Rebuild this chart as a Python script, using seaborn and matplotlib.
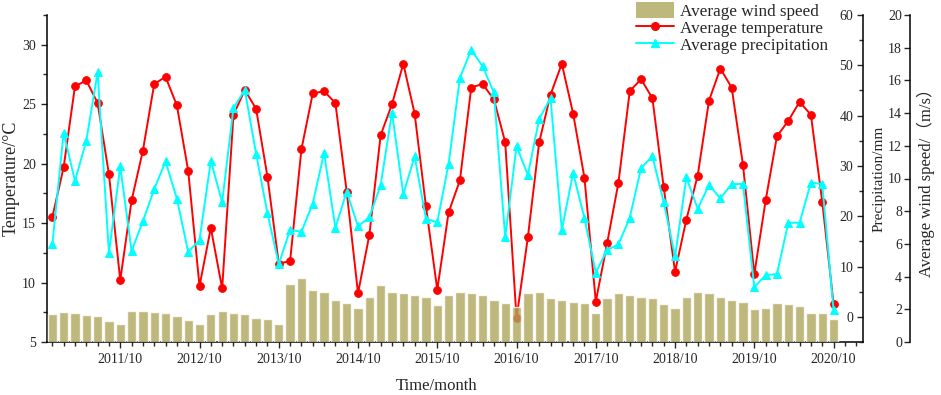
import numpy as np
import pandas as pd
import matplotlib
matplotlib.use("Agg")
import matplotlib.pyplot as plt
import seaborn as sns
from matplotlib.ticker import FixedLocator, MultipleLocator, NullFormatter
from matplotlib.patches import Patch
from matplotlib.lines import Line2D

# ---- data (growing season months Apr-Oct, 2011-2020) ----
tick_labels = ["2011/10", "2012/10", "2013/10", "2014/10", "2015/10",
               "2016/10", "2017/10", "2018/10", "2019/10", "2020/10"]

temperature = [15.5, 19.7, 26.5, 27.0, 25.1, 19.1, 10.2,
               16.9, 21.1, 26.7, 27.3, 24.9, 19.4, 9.7,
               14.6, 9.5, 24.1, 26.2, 24.6, 18.9, 11.6,
               11.8, 21.2, 25.9, 26.1, 25.1, 17.65, 9.1,
               14.0, 22.4, 25.0, 28.4, 24.2, 16.4, 9.4,
               15.9, 18.6, 26.4, 26.7, 25.4, 21.8, 7.0,
               13.8, 21.8, 25.8, 28.4, 24.2, 18.8, 8.4,
               13.3, 18.4, 26.1, 27.1, 25.5, 18.0, 10.9,
               15.3, 19.0, 25.3, 28.0, 26.4, 19.9, 10.7,
               16.9, 22.3, 23.6, 25.2, 24.1, 16.8, 8.2]

precipitation = [14.4, 36.6, 27.0, 35.0, 48.6, 12.7, 29.9,
                 13.1, 19.0, 25.4, 30.9, 23.5, 12.9, 15.3,
                 31.0, 22.8, 41.5, 45.1, 32.4, 20.6, 10.5,
                 17.3, 16.9, 22.5, 32.6, 17.7, 24.9, 18.0,
                 19.8, 26.2, 40.6, 24.4, 31.9, 19.5, 18.8,
                 30.4, 47.5, 53.1, 49.8, 44.6, 15.8, 33.9,
                 28.2, 39.3, 43.5, 17.3, 28.6, 19.6, 8.8,
                 13.3, 14.4, 19.7, 29.6, 31.9, 22.8, 12.0,
                 27.7, 21.5, 26.2, 23.6, 26.4, 26.4, 5.9,
                 8.3, 8.5, 18.7, 18.7, 26.7, 26.4, 1.3]

wind_speed = [1.71, 1.81, 1.77, 1.67, 1.57, 1.27, 1.10,
              1.90, 1.90, 1.83, 1.77, 1.61, 1.36, 1.10,
              1.69, 1.88, 1.77, 1.69, 1.49, 1.41, 1.10,
              3.57, 3.89, 3.18, 3.08, 2.57, 2.37, 2.08,
              2.77, 3.47, 3.06, 2.97, 2.87, 2.77, 2.28,
              2.87, 3.06, 2.97, 2.87, 2.57, 2.37, 2.16,
              2.97, 3.06, 2.67, 2.57, 2.47, 2.37, 1.77,
              2.67, 2.97, 2.87, 2.77, 2.67, 2.30, 2.10,
              2.77, 3.06, 2.97, 2.77, 2.57, 2.47, 2.00,
              2.10, 2.37, 2.30, 2.20, 1.79, 1.79, 1.39]

df = pd.DataFrame({"t": np.arange(len(temperature)),
                   "temp": temperature,
                   "prec": precipitation,
                   "wind": wind_speed})

sns.set_style("ticks")
plt.rcParams["font.family"] = ["Liberation Serif", "Noto Sans CJK SC"]
plt.rcParams["axes.unicode_minus"] = False

bar_color = "#AEA75C"

fig = plt.figure(figsize=(9.41, 3.95), dpi=100)
ax = fig.add_axes([47 / 941, 1 - 342 / 395, 816 / 941, 327 / 395])
ax2 = ax.twinx()
ax3 = ax.twinx()

# temperature (left axis)
sns.lineplot(data=df, x="t", y="temp", ax=ax, color="red", lw=1.4,
             marker="o", markersize=5.5, markeredgecolor="red")
# precipitation (first right axis)
sns.lineplot(data=df, x="t", y="prec", ax=ax2, color="cyan", lw=1.4,
             marker="^", markersize=6, markeredgecolor="cyan")
# wind speed bars (second right axis)
sns.barplot(data=df, x="t", y="wind", ax=ax3, color=bar_color, alpha=0.8,
            width=0.82, native_scale=True, saturation=1)

ax.set_xlim(-0.47, 71.6)
ax.set_ylim(5, 32.5)
ax2.set_ylim(-5, 60)
ax3.set_ylim(0, 20)

# spines
for a in (ax, ax2, ax3):
    for s in a.spines.values():
        s.set_linewidth(1.1)
        s.set_color("black")
    a.spines["top"].set_visible(False)
ax.spines["right"].set_visible(False)
ax2.spines["left"].set_visible(False)
ax2.spines["bottom"].set_visible(False)
ax3.spines["left"].set_visible(False)
ax3.spines["bottom"].set_visible(False)
ax3.spines["right"].set_position(("outward", 34))

# x ticks
major_pos = [6 + 7 * i for i in range(len(tick_labels))]
ax.xaxis.set_major_locator(FixedLocator(major_pos))
ax.set_xticklabels(tick_labels)
ax.xaxis.set_minor_locator(FixedLocator(range(72)))
ax.xaxis.set_minor_formatter(NullFormatter())

ax.yaxis.set_major_locator(MultipleLocator(5))
ax.yaxis.set_minor_locator(MultipleLocator(2.5))
ax2.yaxis.set_major_locator(FixedLocator(range(0, 61, 10)))
ax2.yaxis.set_minor_locator(FixedLocator(range(-5, 61, 5)))
ax3.yaxis.set_major_locator(FixedLocator(range(0, 21, 2)))

ax.tick_params(which="major", direction="out", length=4.5, width=1, labelsize=10)
ax.tick_params(which="minor", direction="out", length=3, width=1)

# right axes: ticks point inward, labels sit left of the spine
ax2.tick_params(axis="y", which="major", direction="in", length=4.5, width=1,
                labelsize=10, pad=-7)
ax2.tick_params(axis="y", which="minor", direction="in", length=3, width=1)
ax3.tick_params(axis="y", which="major", direction="in", length=4.5, width=1,
                labelsize=10, pad=-6)
ax3.tick_params(axis="y", which="minor", right=False)
for a in (ax2, ax3):
    for t in a.yaxis.get_major_ticks():
        t.label2.set_horizontalalignment("right")

ax.set_xlabel("Time/month", fontsize=12, labelpad=12)
ax.set_ylabel("Temperature/°C", fontsize=13, labelpad=2)
ax2.set_ylabel("Precipitation/mm", fontsize=11, labelpad=3.5)
ax3.set_ylabel("Average wind speed/（m/s）", fontsize=12, labelpad=5)
ax.xaxis.set_label_coords(0.478, -0.11)

handles = [Patch(facecolor=bar_color, alpha=0.8, edgecolor="none"),
           Line2D([], [], color="red", lw=1.4, marker="o", markersize=5.5),
           Line2D([], [], color="cyan", lw=1.4, marker="^", markersize=6)]
labels = ["Average wind speed", "Average temperature", "Average precipitation"]
fig.legend(handles, labels, loc="upper left", bbox_to_anchor=(636 / 941, 1 - 2 / 395),
           frameon=False, fontsize=12.3, borderpad=0, borderaxespad=0,
           labelspacing=-0.05, handlelength=2.2, handleheight=1.1, handletextpad=0.35)

fig.savefig("out.png", dpi=100)
